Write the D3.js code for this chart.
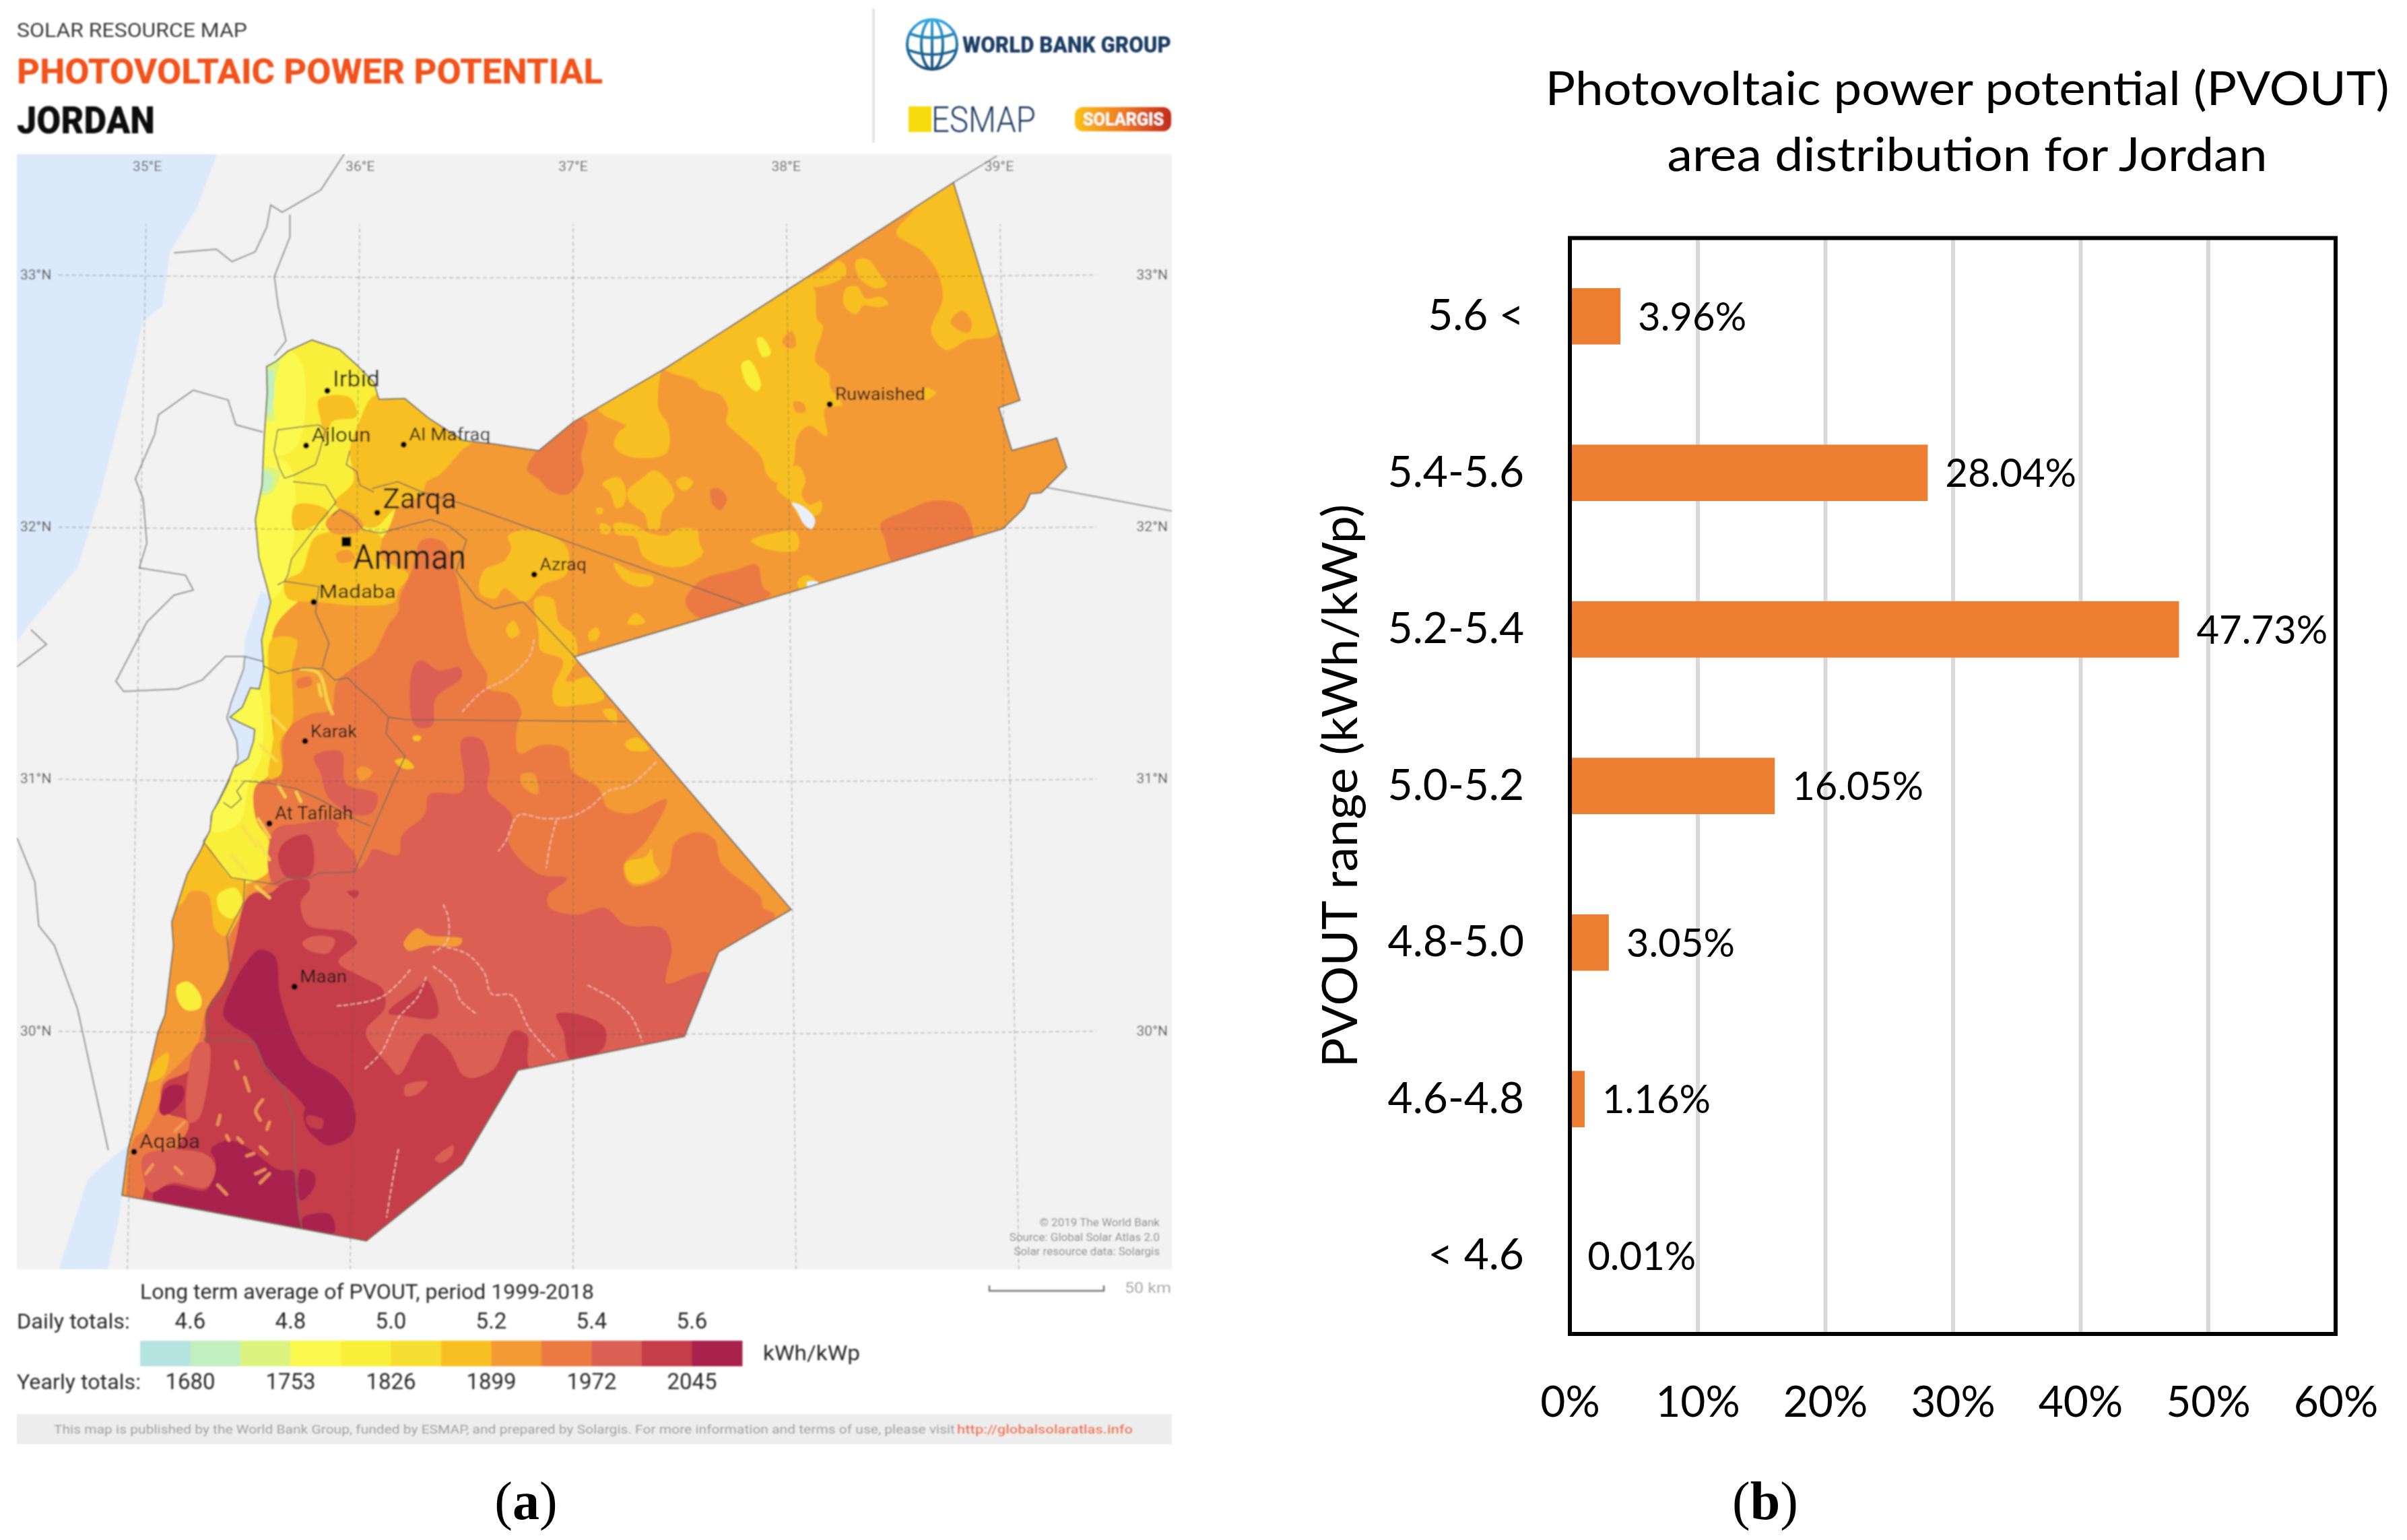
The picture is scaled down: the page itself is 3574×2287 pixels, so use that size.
<!DOCTYPE html>
<html>
<head>
<meta charset="utf-8">
<title>PVOUT Jordan</title>
<script src="https://cdn.jsdelivr.net/npm/d3@7"></script>
<style>
  html, body { margin: 0; padding: 0; background: #fff; }
  svg { display: block; }
</style>
</head>
<body>
<svg id="chart" width="3574" height="2287"></svg>
<script>
// bar chart values
var pvoutRanges = ['5.6 <', '5.4-5.6', '5.2-5.4', '5.0-5.2', '4.8-5.0', '4.6-4.8', '< 4.6'];
var areaShare = [3.96, 28.04, 47.73, 16.05, 3.05, 1.16, 0.01];
var shareTicks = [0, 10, 20, 30, 40, 50, 60];

// map legend
var classColors = ['#B5E3E0', '#C2EFC0', '#DCF47E', '#FBF94E', '#F9EF3A', '#F7DE30', '#F8BF21', '#F39A36', '#EA7A42', '#DB5E52', '#C43D48', '#A9224E'];
var dailyTicks = ['4.6', '4.8', '5.0', '5.2', '5.4', '5.6'];
var yearlyTicks = ['1680', '1753', '1826', '1899', '1972', '2045'];

// graticule
var meridians = [35, 36, 37, 38, 39];
var parallels = [33, 32, 31, 30];

var cityNames = ['Irbid', 'Ajloun', 'Al Mafraq', 'Zarqa', 'Amman', 'Azraq', 'Madaba', 'Karak', 'At Tafilah', 'Ruwaished', 'Maan', 'Aqaba'];
var cityLon = [35.863, 35.765, 36.216, 36.094, 35.951, 36.82, 35.80, 35.76, 35.595, 38.187, 35.711, 34.969];
var cityLat = [32.539, 32.321, 32.325, 32.055, 31.94, 31.81, 31.701, 31.149, 30.822, 32.485, 30.175, 29.52];
var cityFont = [33, 30, 26, 42, 52, 25, 27, 25, 27, 25, 25, 30];
var cityWidth = [70, 88, 121, 110, 168, 70, 114, 69, 116, 134, 70, 90];

// Jordan outline [lon, lat]
var jordan = [[38.759,33.365],[39.067,32.501],[38.969,32.471],[39.03,32.302],[39.237,32.351],[39.283,32.234],[39.165,32.134],[39.115,32.13],[39.085,32.073],[38.987,31.991],
  [37.005,31.483],[38.009,30.481],[37.673,30.313],[37.515,29.977],[36.745,29.843],[36.486,29.47],[36.044,29.166],[34.913,29.347],
  [34.941,29.531],[34.992,29.695],[35.032,29.817],[35.08,29.995],[35.112,30.063],[35.151,30.336],[35.143,30.431],[35.215,30.622],[35.278,30.717],
  [35.294,30.75],[35.32,30.795],[35.33,30.866],[35.361,30.91],[35.403,30.982],[35.429,31.044],[35.496,31.08],[35.522,31.151],[35.527,31.195],[35.46,31.222],[35.413,31.244],[35.47,31.284],[35.507,31.36],[35.548,31.356],[35.569,31.436],[35.559,31.551],
  [35.601,31.701],[35.585,31.756],[35.546,31.878],[35.53,32.028],[35.561,32.164],[35.57,32.342],[35.585,32.532],[35.582,32.635],
  [35.625,32.655],[35.681,32.696],[35.792,32.74],[35.919,32.703],[35.999,32.641],[36.078,32.573],[36.102,32.505],[36.221,32.508],[36.332,32.43],[36.491,32.342],[36.634,32.328],[36.841,32.301],[37.0,32.414],[37.431,32.63],[38.075,32.985]];

// surroundings
var medSea = [[34.2,33.6],[35.38,33.6],[35.35,33.472],[35.261,33.266],[35.136,33.09],[35.1,32.874],[35.011,32.816],[34.975,32.678],[34.814,32.13],[34.707,31.836],[34.492,31.621],[34.428,31.542],[34.2,31.5]];
var deadSea = [[35.554,31.742],[35.62,31.72],[35.633,31.115],[35.429,31.044],[35.455,31.07],[35.444,31.151],[35.398,31.24],[35.418,31.302],[35.476,31.436],[35.481,31.551]];
var gulfAqaba = [[34.929,29.538],[34.953,29.531],[34.913,29.347],[34.897,29.245],[34.833,29.0],[34.6,29.0],[34.754,29.409],[34.849,29.484]];
var borderLines = [
  [[35.958,33.5],[35.833,33.335],[35.654,33.247],[35.601,33.276],[35.583,33.188],[35.529,33.09],[35.422,33.051],[35.35,33.1],[35.154,33.086]],
  [[35.69,33.237],[35.69,33.149],[35.618,32.992],[35.636,32.874],[35.672,32.737],[35.618,32.678]],
  [[35.565,32.375],[35.44,32.404],[35.404,32.502],[35.243,32.541],[35.082,32.443],[35.064,32.365],[34.975,32.189],[35.011,32.11],[35.028,31.934],[34.993,31.836],[35.207,31.807],[35.243,31.748],[35.154,31.728],[35.028,31.621],[34.885,31.386],[34.921,31.346],[35.171,31.356],[35.2835,31.391],[35.392,31.485],[35.481,31.485],[35.57,31.464]],
  [[35.481,31.485],[35.476,31.436],[35.418,31.302],[35.398,31.24],[35.444,31.151],[35.45,31.08],[35.418,31.017],[35.361,30.915],[35.325,30.85],[35.325,30.795],[35.288,30.75]],
  [[34.428,31.444],[34.564,31.533],[34.492,31.591]],
  [[34.428,30.765],[34.51,30.591],[34.528,30.417],[34.6,30.339],[34.707,30.088],[34.85,29.526]],
  [[39.192,32.155],[39.78,32.06]],
  [[38.759,33.365],[38.96,33.47]]
];

// governorate lines
var adminLines = [
  [[36.07,32.151],[36.189,32.178],[36.3,32.137],[36.467,32.096],[37.789,31.691]],
  [[35.967,32.301],[35.951,32.246],[35.998,32.219],[36.014,32.164],[36.078,32.137]],
  [[35.633,32.383],[35.744,32.396],[35.824,32.403],[35.855,32.383],[35.824,32.287],[35.808,32.246],[35.712,32.205],[35.665,32.192],[35.641,32.233],[35.617,32.301],[35.633,32.383]],
  [[35.704,32.178],[35.855,32.164],[35.903,32.096],[35.824,32.014],[35.697,31.871],[35.681,31.81],[35.665,31.783]],
  [[35.887,32.042],[35.919,32.069],[35.983,32.035],[36.03,31.987],[36.11,31.974],[36.221,32.001],[36.34,32.028],[36.428,32.001],[36.507,31.946],[36.459,31.824],[36.554,31.715],[36.634,31.674],[36.769,31.701],[37.007,31.483]],
  [[35.633,31.769],[35.665,31.783],[35.824,31.762],[35.808,31.66],[35.871,31.538],[35.84,31.442]],
  [[35.481,31.436],[35.564,31.449],[35.636,31.418],[35.751,31.44],[35.844,31.436],[35.896,31.391],[35.958,31.4],[36.01,31.355],[36.083,31.302],[36.145,31.244],[36.218,31.235],[36.685,31.231],[37.246,31.227]],
  [[36.145,31.244],[36.135,31.178],[36.223,31.089],[36.166,30.982],[35.989,30.63],[35.823,30.626],[35.782,30.608],[35.678,30.608],[35.616,30.581],[35.418,30.608],[35.289,30.75]],
  [[35.382,30.906],[35.418,30.884],[35.465,30.92],[35.444,30.951],[35.481,30.991],[35.595,30.982],[35.72,30.96],[35.834,30.915],[35.989,30.839],[36.062,30.812]],
  [[35.481,30.599],[35.476,30.51],[35.398,30.377],[35.413,30.25],[35.397,30.171],[35.304,30.082],[35.314,30.011],[35.294,29.962],[35.439,29.962],[35.522,29.958],[35.574,29.86],[35.657,29.78],[35.709,29.646],[35.709,29.504],[35.73,29.281],[35.745,29.219]]
];

// pvout zones, drawn in this order on top of the base class
var zonesYellow = [
  [[35.44,32.85],[36.15,32.85],[36.15,32.0],[35.95,31.85],[35.744,31.715],[35.62,31.6],[35.605,31.436],[35.60,31.3],[35.616,31.106],[35.595,31.017],[35.543,30.973],[35.533,30.84],[35.605,30.75],[35.605,30.66],[35.574,30.617],[35.418,30.581],[35.31,30.72],[34.9,30.6],[34.9,31.2],[35.3,32.0],[35.3,32.85]]
];
var zonesBright = [
  [[35.5,32.25],[35.68,32.25],[35.69,31.85],[35.62,31.72],[35.5,31.72]],
  [[35.5,32.7],[35.72,32.68],[35.76,32.45],[35.7,32.3],[35.5,32.3]],
  [[35.3,31.4],[35.52,31.4],[35.56,31.1],[35.50,30.98],[35.45,30.82],[35.3,30.8]]
];
var zonesLime = [
  [[35.577,32.641],[35.641,32.662],[35.609,32.532],[35.617,32.423],[35.577,32.423]],
  [[35.57,32.233],[35.641,32.219],[35.609,32.137],[35.554,32.124]]
];
var zonesGreen = [
  [[35.577,32.62],[35.61,32.62],[35.6,32.45],[35.577,32.45]],
  [[35.57,32.22],[35.61,32.2],[35.59,32.14],[35.56,32.14]]
];
var zonesAmber = [
  [[36.078,32.519],[36.269,32.532],[36.539,32.342],[36.491,32.308],[36.428,32.246],[36.38,32.205],[36.324,32.178],[36.3,32.13],[36.165,32.062],[36.094,32.001],[36.03,32.001],[35.983,32.049],[35.919,32.069],[35.895,32.096],[35.983,32.178],[35.967,32.301],[36.014,32.423]],
  [[35.808,31.96],[35.951,31.987],[36.03,31.987],[36.11,31.96],[36.11,31.878],[36.237,31.81],[36.189,31.742],[36.173,31.701],[35.998,31.687],[35.824,31.701],[35.681,31.715],[35.665,31.783],[35.744,31.824],[35.776,31.906]],
  [[35.824,32.505],[35.967,32.512],[35.998,32.437],[35.887,32.417],[35.855,32.342],[35.832,32.423]],
  [[35.712,32.083],[35.824,32.083],[35.871,32.055],[35.824,32.014],[35.712,31.987]],
  // band east of the valley yellow
  [[35.605,31.551],[35.72,31.551],[35.699,31.436],[35.699,31.222],[35.647,31.151],[35.647,31.017],[35.595,31.0],[35.616,31.195],[35.595,31.373]],
  // north-east arm
  [[38.566,33.245],[38.495,33.164],[38.611,33.095],[38.683,33.014],[38.71,32.905],[38.656,32.775],[38.727,32.7],[38.826,32.741],[38.942,32.755],[38.987,32.823],[38.897,33.136],[38.79,33.422],[38.629,33.341]],
  [[38.075,32.986],[38.119,32.932],[38.128,32.823],[38.155,32.795],[38.119,32.659],[38.182,32.605],[38.191,32.55],[38.245,32.482],[38.164,32.468],[38.173,32.359],[38.093,32.4],[38.039,32.359],[38.021,32.25],[38.003,32.209],[37.941,32.175],[37.896,32.209],[37.869,32.278],[37.753,32.373],[37.708,32.414],[37.717,32.468],[37.681,32.523],[37.592,32.55],[37.565,32.577],[37.431,32.618],[37.377,32.659],[38.003,33.013]],
  [[37.404,32.605],[37.395,32.468],[37.44,32.4],[37.431,32.291],[37.261,32.278],[37.19,32.318],[37.208,32.373],[37.243,32.4],[37.145,32.441],[37.109,32.482],[37.431,32.68]],
  [[37.252,32.141],[37.315,32.189],[37.377,32.223],[37.449,32.169],[37.467,32.114],[37.413,32.059],[37.395,31.991],[37.351,31.991],[37.333,32.046],[37.261,32.1]],
  [[37.136,32.169],[37.208,32.196],[37.243,32.148],[37.234,32.087],[37.199,32.073],[37.172,32.134]],
  [[37.476,32.175],[37.512,32.199],[37.556,32.175],[37.512,32.141]],
  [[37.19,32.012],[37.288,32.005],[37.342,31.978],[37.431,31.964],[37.485,31.991],[37.574,31.985],[37.583,31.937],[37.601,31.896],[37.529,31.848],[37.431,31.841],[37.324,31.882],[37.288,31.957],[37.199,31.971]],
  [[37.127,32.012],[37.172,31.998],[37.163,31.971],[37.127,31.977]],
  [[37.109,32.073],[37.136,32.073],[37.136,32.053],[37.109,32.053]],
  [[37.19,31.855],[37.27,31.82],[37.368,31.801],[37.368,31.773],[37.297,31.762],[37.225,31.794]],
  [[37.824,31.944],[37.914,31.971],[38.03,31.978],[38.039,31.91],[37.896,31.91]],
  [[37.252,31.616],[37.288,31.657],[37.333,31.623],[37.297,31.61]],
  [[37.073,31.569],[37.1,31.599],[37.124,31.582],[37.1,31.544]],
  [[38.307,33.054],[38.361,33.061],[38.414,33.007],[38.45,32.959],[38.397,32.945],[38.325,32.986]],
  [[38.262,32.945],[38.316,32.952],[38.352,32.905],[38.423,32.911],[38.459,32.884],[38.414,32.87],[38.343,32.877],[38.307,32.843],[38.254,32.877]],
  [[38.075,32.979],[38.164,33.014],[38.227,33.054],[38.254,33.041],[38.262,33.0],[38.2,32.966],[38.11,32.952]],
  [[37.985,32.209],[38.039,32.243],[38.075,32.182],[38.057,32.128],[38.093,32.087],[38.146,32.1],[38.146,32.059],[38.057,32.032],[38.003,32.1],[37.941,32.155]],
  [[38.039,31.78],[38.075,31.807],[38.119,31.787],[38.093,31.76],[38.048,31.753]],
  [[38.629,32.55],[38.679,32.53],[38.629,32.502]],
  // Azraq and south of it
  [[36.698,31.96],[36.777,31.987],[36.936,31.946],[36.976,31.905],[36.968,31.81],[36.857,31.769],[36.777,31.701],[36.682,31.756],[36.642,31.715],[36.57,31.735],[36.586,31.824],[36.682,31.865],[36.714,31.919]],
  [[36.825,31.715],[36.904,31.715],[36.936,31.619],[37.007,31.565],[37.015,31.47],[36.968,31.387],[37.079,31.401],[37.143,31.319],[37.016,31.292],[36.92,31.292],[36.904,31.347],[36.952,31.469],[36.849,31.51],[36.841,31.578]],
  [[36.69,31.592],[36.722,31.626],[36.753,31.578],[36.713,31.558]],
  [[37.071,31.578],[37.111,31.599],[37.119,31.572],[37.079,31.544]],
  [[37.241,31.142],[37.297,31.163],[37.352,31.115],[37.257,31.115]],
  [[37.138,31.272],[37.193,31.272],[37.201,31.217],[37.162,31.237]]
];
var zonesBaseOnAmber = [
  [[38.799,32.857],[38.745,32.809],[38.826,32.768],[38.844,32.809]],
  [[37.967,32.734],[38.012,32.775],[38.03,32.714],[37.994,32.707]],
  [[38.021,32.496],[38.066,32.489],[38.075,32.455],[38.03,32.455]],
  [[35.855,32.014],[35.919,32.069],[35.998,32.042],[36.03,32.001],[35.99,31.974],[35.887,31.974]],
  [[35.903,31.892],[35.967,31.906],[35.99,31.871],[35.919,31.858]]
];
var zonesRed1 = [
  [[36.3,31.946],[36.396,31.94],[36.459,31.81],[36.491,31.66],[36.523,31.524],[36.602,31.415],[36.602,31.36],[36.714,31.333],[36.761,31.265],[36.741,31.21],[36.749,31.101],[36.86,31.135],[36.971,31.115],[36.995,31.033],[37.114,30.965],[37.162,30.883],[37.273,30.863],[37.432,30.917],[37.344,30.76],[37.233,30.651],[37.273,30.576],[37.432,30.624],[37.472,30.747],[37.575,30.788],[37.654,30.76],[37.686,30.665],[37.869,30.529],[37.877,30.488],[37.932,30.46],[37.75,30.25],[37.654,30.1],[37.575,29.9],[37.5,29.7],[36.5,29.2],[36,29.1],[35,29.25],[34.897,29.3],[34.93,29.352],[34.941,29.45],[34.972,29.575],[35.024,29.61],[35.086,29.717],[35.096,29.789],[35.2,29.886],[35.263,29.949],[35.304,30.082],[35.397,30.171],[35.408,30.367],[35.481,30.483],[35.491,30.528],[35.595,30.59],[35.605,30.66],[35.595,30.75],[35.533,30.84],[35.533,30.973],[35.647,31.017],[35.657,31.151],[35.699,31.213],[35.792,31.258],[35.88,31.275],[35.906,31.382],[35.989,31.444],[36.078,31.497],[36.142,31.606],[36.189,31.66],[36.197,31.715],[36.253,31.824]],
  [[35.72,31.387],[35.782,31.405],[35.792,31.373],[35.73,31.36]],
  // north-east arm
  [[37.064,32.414],[37.038,32.278],[37.047,32.209],[36.975,32.128],[36.895,32.141],[36.841,32.189],[36.787,32.223],[36.841,32.312],[36.948,32.4],[37.0,32.441]],
  [[37.637,32.148],[37.681,32.148],[37.712,32.107],[37.681,32.066],[37.646,32.087]],
  [[38.423,32.012],[38.531,32.059],[38.665,32.103],[38.79,32.087],[38.835,32.032],[38.844,31.937],[38.486,31.855],[38.441,31.95]],
  [[37.52,31.712],[37.592,31.787],[37.753,31.828],[37.851,31.848],[37.878,31.76],[37.914,31.732],[37.771,31.678],[37.592,31.637],[37.529,31.678]]
];
var zonesRed2 = [
  [[36.486,31.156],[36.574,31.156],[36.614,31.047],[36.606,30.951],[36.717,30.856],[36.701,30.747],[36.836,30.624],[36.971,30.604],[36.884,30.536],[36.892,30.488],[37.019,30.461],[37.146,30.488],[37.241,30.42],[37.416,30.406],[37.456,30.324],[37.432,30.229],[37.432,30.188],[37.623,30.229],[37.559,29.943],[36.987,29.861],[36.749,29.834],[36.2,29.8],[35.707,29.8],[35.707,30.472],[35.771,30.608],[35.866,30.676],[35.962,30.649],[36.002,30.651],[36.065,30.72],[36.192,30.699],[36.208,30.774],[36.312,30.856],[36.336,30.938],[36.486,30.951]],
  [[36.3,31.469],[36.38,31.428],[36.475,31.442],[36.483,31.401],[36.364,31.319],[36.348,31.21],[36.269,31.21],[36.245,31.374],[36.269,31.456]],
  [[35.802,31.089],[35.927,31.106],[35.948,30.982],[36.093,30.937],[36.072,30.866],[35.989,30.857],[35.865,30.928],[35.834,31.017]],
  [[35.616,30.795],[35.74,30.822],[35.906,30.83],[35.927,30.777],[35.989,30.706],[35.989,30.63],[35.616,30.581]]
];
var zonesRed1Over = [
  [[35.906,30.803],[35.989,30.81],[36.062,30.76],[36.072,30.732],[36.01,30.643],[35.989,30.706],[35.958,30.733]]
];
var zonesRed3 = [
  [[35.668,30.59],[35.771,30.599],[35.782,30.564],[35.74,30.51],[35.771,30.421],[35.865,30.403],[35.948,30.394],[36.001,30.35],[35.914,30.274],[36.025,30.213],[36.12,30.165],[36.128,30.09],[36.041,29.995],[36.152,29.858],[36.192,29.824],[36.319,29.988],[36.422,29.927],[36.502,29.818],[36.629,29.845],[36.724,30.0],[36.788,29.98],[36.788,29.886],[36.8,29.8],[36.55,29.4],[36.1,29.05],[35.013,29.25],[35.013,29.352],[35.065,29.459],[35.169,29.539],[35.221,29.637],[35.107,29.682],[35.107,29.788],[35.221,29.842],[35.294,29.949],[35.304,30.082],[35.387,30.198],[35.44,30.36],[35.481,30.51],[35.522,30.546],[35.595,30.546]],
  [[35.657,30.741],[35.771,30.777],[35.802,30.697],[35.782,30.617],[35.678,30.608],[35.636,30.679]],
  [[35.954,30.553],[36.009,30.553],[35.993,30.526]],
  [[36.145,30.072],[36.288,30.175],[36.32,30.202],[36.375,30.106],[36.367,30.052],[36.224,30.059]],
  [[36.923,30.065],[37.05,30.059],[37.146,30.011],[37.138,29.929],[36.987,29.888],[36.955,29.997]]
];
var zonesRed4 = [
  [[35.549,30.322],[35.62,30.295],[35.644,30.145],[35.707,29.981],[35.771,29.886],[35.898,29.818],[35.985,29.708],[35.962,29.654],[35.985,29.6],[35.866,29.545],[35.803,29.586],[35.771,29.681],[35.691,29.763],[35.596,29.831],[35.517,29.967],[35.421,30.022],[35.382,30.063],[35.421,30.172],[35.485,30.267]],
  [[35.065,29.37],[35.148,29.388],[35.304,29.37],[35.346,29.477],[35.325,29.531],[35.408,29.566],[35.491,29.539],[35.636,29.45],[35.709,29.441],[35.73,29.272],[35.74,29.21],[35.429,29.246],[35.065,29.317]],
  [[35.75,29.259],[35.875,29.272],[35.896,29.2],[35.75,29.219]],
  [[35.74,29.45],[35.802,29.433],[35.802,29.379],[35.74,29.326]],
  [[35.107,29.762],[35.138,29.784],[35.195,29.78],[35.195,29.726],[35.107,29.664],[35.086,29.682]],
  [[35.761,29.691],[35.979,29.7],[35.979,29.593],[35.875,29.548],[35.771,29.61]]
];
var patchesRed3 = [
  [[35.771,29.664],[35.844,29.646],[35.833,29.611],[35.771,29.628]]
];
var patchesRed2 = [
  [[36.224,29.783],[36.327,29.797],[36.279,29.749],[36.224,29.742]],
  [[36.359,29.49],[36.446,29.545],[36.438,29.504],[36.391,29.477]],
  [[35.262,29.949],[35.314,29.949],[35.294,29.717],[35.262,29.646],[35.221,29.637],[35.221,29.842]],
  [[35.013,29.504],[35.294,29.513],[35.346,29.459],[35.304,29.379],[35.148,29.397],[35.044,29.361]],
  [[35.747,30.349],[35.803,30.376],[35.898,30.363],[35.866,30.308],[35.771,30.322]]
];
var patchesBase = [
  [[36.216,30.345],[36.28,30.406],[36.336,30.379],[36.487,30.365],[36.471,30.338],[36.328,30.338],[36.24,30.318]],
  [[36.757,31.013],[36.82,31.019],[36.836,30.938],[36.772,30.965]],
  [[35.999,31.035],[36.031,31.048],[36.072,31.026],[36.02,30.99]]
];
var patchesAmber = [
  [[35.286,30.744],[35.418,30.608],[35.481,30.599],[35.476,30.51],[35.398,30.377],[35.346,30.4],[35.31,30.54],[35.231,30.553],[35.183,30.499],[35.12,30.499],[35.199,30.622]],
  [[35.024,29.797],[35.076,29.886],[35.128,29.913],[35.107,29.824],[35.044,29.797]],
  [[37.241,30.665],[37.337,30.692],[37.36,30.72],[37.376,30.665],[37.4,30.624],[37.305,30.583],[37.257,30.597]],
  [[36.176,31.07],[36.223,31.08],[36.264,31.044],[36.218,31.04]],
  [[36.259,31.168],[36.295,31.168],[36.29,31.151],[36.264,31.151]]
];
var patchesYellow = [
  [[35.358,30.54],[35.437,30.567],[35.469,30.513],[35.421,30.445],[35.366,30.472]],
  [[35.169,30.18],[35.221,30.194],[35.278,30.136],[35.273,30.091],[35.21,30.082],[35.169,30.127]],
  [[37.78,32.646],[37.815,32.659],[37.869,32.564],[37.851,32.537],[37.806,32.564]],
  [[37.851,32.748],[37.878,32.748],[37.914,32.686],[37.878,32.673]]
];
var waterPatches = [
  [[38.012,32.094],[38.048,32.087],[38.093,32.059],[38.119,32.025],[38.102,31.991],[38.066,32.012],[38.039,32.059]],
  [[38.084,31.78],[38.132,31.78],[38.132,31.767],[38.084,31.762]]
];
var streaksYellow = [
  [[35.74,31.436],[35.823,31.418],[35.865,31.302],[35.886,31.258]],
  [[35.823,31.373],[35.834,31.329]],
  [[35.595,31.258],[35.668,31.195]],
  [[35.553,31.133],[35.626,31.071]],
  [[35.636,30.973],[35.668,30.928]],
  [[35.72,30.946],[35.74,30.91]],
  [[35.543,30.84],[35.595,30.768]],
  [[35.543,30.75],[35.595,30.679]],
  [[35.533,30.572],[35.595,30.528]],
  [[35.47,30.813],[35.533,30.733]],
  [[35.418,30.697],[35.491,30.626]]
];
var streaksPale = [
  [[35.439,29.878],[35.449,29.851]],
  [[35.481,29.815],[35.501,29.762]],
  [[35.564,29.726],[35.532,29.682],[35.553,29.646]],
  [[35.595,29.637],[35.584,29.61]],
  [[35.491,29.504],[35.522,29.513]],
  [[35.553,29.539],[35.584,29.513]],
  [[35.397,29.584],[35.408,29.566]],
  [[35.449,29.575],[35.47,29.557]],
  [[35.532,29.433],[35.574,29.45]],
  [[35.553,29.397],[35.595,29.433]],
  [[35.366,29.664],[35.356,29.628]],
  [[35.2,29.637],[35.159,29.602]],
  [[35.055,29.468],[35.024,29.433]],
  [[35.159,29.459],[35.19,29.433]],
  [[35.356,29.388],[35.397,29.352]]
];
var wadis = [
  [[36.486,31.265],[36.582,31.347],[36.701,31.401],[36.796,31.483],[36.82,31.551]],
  [[37.384,31.067],[37.321,31.013],[37.257,30.972],[37.162,30.951],[37.082,30.89],[36.987,30.849],[36.86,30.842],[36.749,30.856],[36.685,30.747],[36.653,30.713]],
  [[36.923,30.835],[36.892,30.733],[36.876,30.645]],
  [[36.399,30.501],[36.423,30.447],[36.415,30.352],[36.351,30.31]],
  [[36.415,30.331],[36.51,30.304],[36.59,30.229],[36.622,30.147],[36.717,30.14],[36.796,30.011],[36.923,29.888]],
  [[36.351,30.256],[36.447,30.188],[36.479,30.12],[36.558,30.065]],
  [[36.32,30.215],[36.28,30.133],[36.192,30.052],[36.113,29.915],[36.034,29.847]],
  [[35.907,30.099],[36.113,30.133],[36.248,30.243]],
  [[37.066,30.181],[37.194,30.12],[37.273,30.052],[37.32,29.956]],
  [[36.192,29.531],[36.16,29.381],[36.137,29.259]]
];

var svg = d3.select('#chart');
var defs = svg.append('defs');
var mapFont = 'Roboto, sans-serif';
var barFont = 'Lato, sans-serif';

// squeeze text to the width it has in the picture
function fit(sel, len) {
    return sel.attr('textLength', len).attr('lengthAdjust', 'spacingAndGlyphs');
}

function renderPanelA() {
    var soft = defs.append('filter').attr('id', 'soft')
        .attr('x', 0).attr('y', 0).attr('width', '100%').attr('height', '100%');
    soft.append('feGaussianBlur').attr('stdDeviation', 1.3);

    var left = svg.append('g').attr('filter', 'url(#soft)');
    renderHeader(left);
    renderMap(left);
    renderLegend(left);
}

function renderHeader(g) {
    g.append('text').attr('x', 25).attr('y', 55).text('SOLAR RESOURCE MAP')
        .attr('font-family', mapFont).attr('font-size', 29).attr('fill', '#3c3c3c')
        .call(fit, 342);
    g.append('text').attr('x', 25).attr('y', 124).text('PHOTOVOLTAIC POWER POTENTIAL')
        .attr('font-family', mapFont).attr('font-weight', 800).attr('font-size', 51).attr('fill', '#F0521E')
        .call(fit, 870);
    g.append('text').attr('x', 25).attr('y', 198).text('JORDAN')
        .attr('font-family', mapFont).attr('font-weight', 900).attr('font-size', 55).attr('fill', '#111')
        .call(fit, 205);

    g.append('line').attr('x1', 1297).attr('x2', 1297).attr('y1', 12).attr('y2', 212)
        .attr('stroke', '#ddd').attr('stroke-width', 3);

    // world bank globe
    var globeGrad = defs.append('linearGradient').attr('id', 'globeGrad')
        .attr('x1', 0).attr('y1', 0).attr('x2', 0).attr('y2', 1);
    globeGrad.append('stop').attr('offset', '0%').attr('stop-color', '#35A9DF');
    globeGrad.append('stop').attr('offset', '55%').attr('stop-color', '#1F6E9C');
    globeGrad.append('stop').attr('offset', '100%').attr('stop-color', '#1B4E78');
    var globe = g.append('g').attr('transform', 'translate(1384,66)')
        .attr('fill', 'none').attr('stroke', 'url(#globeGrad)').attr('stroke-width', 4);
    globe.append('circle').attr('r', 37);
    globe.append('ellipse').attr('rx', 16).attr('ry', 37);
    globe.append('path').attr('d', 'M0,-37V37M-33,-16Q0,-4 33,-16M-36,8Q0,22 36,8');

    g.append('text').attr('x', 1429).attr('y', 78).text('WORLD BANK GROUP')
        .attr('font-family', mapFont).attr('font-weight', 900).attr('font-size', 33).attr('fill', '#1B3E63')
        .call(fit, 310);

    g.append('rect').attr('x', 1349).attr('y', 158).attr('width', 34).attr('height', 38).attr('fill', '#F6DC0E');
    g.append('text').attr('x', 1383).attr('y', 196).text('ESMAP')
        .attr('font-family', mapFont).attr('font-weight', 300).attr('font-size', 54).attr('fill', '#1E3A5F')
        .call(fit, 155);

    var solarGrad = defs.append('linearGradient').attr('id', 'solarGrad');
    solarGrad.append('stop').attr('offset', '0%').attr('stop-color', '#F8C318');
    solarGrad.append('stop').attr('offset', '50%').attr('stop-color', '#EF7B22');
    solarGrad.append('stop').attr('offset', '100%').attr('stop-color', '#C22A1E');
    g.append('rect').attr('x', 1596).attr('y', 159).attr('width', 143).attr('height', 36).attr('rx', 12)
        .attr('fill', 'url(#solarGrad)');
    g.append('text').attr('x', 1608).attr('y', 186).text('SOLARGIS')
        .attr('font-family', mapFont).attr('font-weight', 700).attr('font-size', 26).attr('fill', '#fff')
        .call(fit, 120);
}

function renderMap(g) {
    var xMap = d3.scaleLinear().domain([37, 38]).range([851, 1172]);
    var yMap = d3.scaleLinear().domain([32, 31]).range([782, 1156.4]);

    var panel = {x: 25, y: 229, w: 1715, h: 1656};
    var polyLine = d3.line().x(function(d) { return xMap(d[0]); }).y(function(d) { return yMap(d[1]); });
    var blob = d3.line().x(function(d) { return xMap(d[0]); }).y(function(d) { return yMap(d[1]); })
        .curve(d3.curveCatmullRomClosed.alpha(0.5));
    var curvy = d3.line().x(function(d) { return xMap(d[0]); }).y(function(d) { return yMap(d[1]); })
        .curve(d3.curveCatmullRom.alpha(0.5));

    defs.append('clipPath').attr('id', 'panelClip').append('rect')
        .attr('x', panel.x).attr('y', panel.y).attr('width', panel.w).attr('height', panel.h);
    defs.append('clipPath').attr('id', 'jordanClip').append('path')
        .attr('d', polyLine(jordan) + 'Z');

    var map = g.append('g').attr('clip-path', 'url(#panelClip)');
    map.append('rect').attr('x', panel.x).attr('y', panel.y).attr('width', panel.w).attr('height', panel.h)
        .attr('fill', '#F2F2F2');

    [medSea, deadSea, gulfAqaba].forEach(function(ring) {
        map.append('path').attr('d', polyLine(ring) + 'Z').attr('fill', '#DCE9FB');
    });

    map.append('g').selectAll('path').data(borderLines).join('path')
        .attr('d', polyLine).attr('fill', 'none').attr('stroke', '#969696').attr('stroke-width', 2.2);

    map.append('path').attr('d', polyLine(jordan) + 'Z').attr('fill', classColors[7]);

    var zones = map.append('g').attr('clip-path', 'url(#jordanClip)');
    var stack = [
        [zonesYellow, classColors[4]], [zonesBright, classColors[3]], [zonesLime, classColors[2]], [zonesGreen, classColors[1]],
        [zonesAmber, classColors[6]], [zonesBaseOnAmber, classColors[7]],
        [zonesRed1, classColors[8]], [zonesRed2, classColors[9]], [zonesRed1Over, classColors[8]], [zonesRed3, classColors[10]], [zonesRed4, classColors[11]],
        [patchesRed3, classColors[10]], [patchesRed2, classColors[9]], [patchesBase, classColors[7]], [patchesAmber, classColors[6]], [patchesYellow, classColors[4]],
        [waterPatches, '#E8F0FB']
    ];
    stack.forEach(function(layer) {
        zones.append('g').selectAll('path').data(layer[0]).join('path')
            .attr('d', blob).attr('fill', layer[1]);
    });

    zones.append('g').selectAll('path').data(streaksYellow).join('path')
        .attr('d', curvy).attr('fill', 'none').attr('stroke', '#F8DE50').attr('stroke-width', 5)
        .attr('stroke-linecap', 'round').attr('opacity', 0.8);
    zones.append('g').selectAll('path').data(streaksPale).join('path')
        .attr('d', curvy).attr('fill', 'none').attr('stroke', '#F2A45A').attr('stroke-width', 5)
        .attr('stroke-linecap', 'round').attr('opacity', 0.8);

    zones.append('g').selectAll('path').data(wadis).join('path')
        .attr('d', curvy).attr('fill', 'none').attr('stroke', '#F2C9C0').attr('stroke-width', 2)
        .attr('stroke-dasharray', '7 3').attr('opacity', 0.8);

    zones.append('g').selectAll('path').data(adminLines).join('path')
        .attr('d', polyLine).attr('fill', 'none').attr('stroke', '#6d675a').attr('stroke-width', 1.5);

    map.append('path').attr('d', polyLine(jordan) + 'Z')
        .attr('fill', 'none').attr('stroke', '#6e6a55').attr('stroke-width', 2);

    // graticule, meridians lean in slightly towards the north
    var meridianX = function(lon, lat) { return xMap(37 + (lon - 37) * (1 - 0.0105 * (lat - 32))); };
    var grid = map.append('g').attr('fill', 'none').attr('stroke', '#555').attr('stroke-opacity', 0.36)
        .attr('stroke-width', 1.6).attr('stroke-dasharray', '6 4');
    meridians.forEach(function(lon) {
        var lats = d3.range(29.0, 33.36, 0.2);
        grid.append('path').attr('d', d3.line()
            .x(function(lat) { return meridianX(lon, lat); })
            .y(function(lat) { return yMap(lat); })(lats));
    });
    parallels.forEach(function(lat) {
        var lons = d3.range(34.62, 39.6, 0.2);
        grid.append('path').attr('d', d3.line()
            .x(function(lon) { return xMap(lon); })
            .y(function(lon) { return yMap(lat) + 5 * (1 - Math.pow((lon - 37) / 2.6, 2)); })(lons));
    });

    map.append('g').selectAll('text').data(meridians).join('text')
        .attr('x', function(d) { return meridianX(d, 33.42); }).attr('y', 254)
        .attr('text-anchor', 'middle').attr('font-family', mapFont).attr('font-size', 21).attr('fill', '#666')
        .text(function(d) { return d + '°E'; });
    map.append('g').selectAll('text').data(parallels).join('text')
        .attr('x', 30).attr('y', function(d) { return yMap(d) + 7; })
        .attr('font-family', mapFont).attr('font-size', 21).attr('fill', '#555')
        .text(function(d) { return d + '°N'; });
    map.append('g').selectAll('text').data(parallels).join('text')
        .attr('x', 1734).attr('y', function(d) { return yMap(d) + 7; })
        .attr('text-anchor', 'end').attr('font-family', mapFont).attr('font-size', 21).attr('fill', '#555')
        .text(function(d) { return d + '°N'; });

    // cities
    cityNames.forEach(function(name, i) {
        var cx = xMap(cityLon[i]);
        var cy = yMap(cityLat[i]);
        var isCapital = name === 'Amman';
        if (isCapital) {
            map.append('rect').attr('x', cx - 7).attr('y', cy - 7).attr('width', 14).attr('height', 14).attr('fill', '#000');
        } else {
            map.append('circle').attr('cx', cx).attr('cy', cy).attr('r', 4.5).attr('fill', '#000');
        }
        map.append('text')
            .attr('x', cx + (isCapital ? 10 : 8))
            .attr('y', cy + (isCapital ? 41 : -6))
            .attr('font-family', mapFont).attr('font-size', cityFont[i]).attr('fill', '#1c1c1c')
            .text(name).call(fit, cityWidth[i]);
    });

    var credits = ['© 2019 The World Bank', 'Source: Global Solar Atlas 2.0', 'Solar resource data: Solargis'];
    map.append('g').selectAll('text').data(credits).join('text')
        .attr('x', 1722).attr('y', function(d, i) { return 1821 + i * 21.5; })
        .attr('text-anchor', 'end').attr('font-family', mapFont).attr('font-size', 17).attr('fill', '#888')
        .text(function(d) { return d; });
}

function renderLegend(g) {
    var legendX = d3.scaleBand().domain(d3.range(classColors.length)).range([208, 1102]);

    g.append('text').attr('x', 208).attr('y', 1929).text('Long term average of PVOUT, period 1999-2018')
        .attr('font-family', mapFont).attr('font-size', 31).attr('fill', '#2c2c2c').call(fit, 674);

    g.append('g').selectAll('rect').data(classColors).join('rect')
        .attr('x', function(d, i) { return legendX(i); }).attr('y', 1991)
        .attr('width', legendX.bandwidth() + 0.5).attr('height', 38)
        .attr('fill', function(d) { return d; });

    g.append('text').attr('x', 25).attr('y', 1973).text('Daily totals:')
        .attr('font-family', mapFont).attr('font-size', 31).attr('fill', '#2c2c2c').call(fit, 168);
    g.append('text').attr('x', 25).attr('y', 2063).text('Yearly totals:')
        .attr('font-family', mapFont).attr('font-size', 31).attr('fill', '#2c2c2c').call(fit, 184);

    var tickX = function(d, i) { return legendX(2 * i + 1); };
    g.append('g').selectAll('text').data(dailyTicks).join('text')
        .attr('x', tickX).attr('y', 1973).attr('text-anchor', 'middle')
        .attr('font-family', mapFont).attr('font-size', 33).attr('fill', '#2c2c2c')
        .text(function(d) { return d; });
    g.append('g').selectAll('text').data(yearlyTicks).join('text')
        .attr('x', tickX).attr('y', 2063).attr('text-anchor', 'middle')
        .attr('font-family', mapFont).attr('font-size', 33).attr('fill', '#2c2c2c')
        .text(function(d) { return d; });

    g.append('text').attr('x', 1133).attr('y', 2020).text('kWh/kWp')
        .attr('font-family', mapFont).attr('font-size', 31).attr('fill', '#2c2c2c').call(fit, 144);

    g.append('path').attr('d', 'M1469,1909V1917H1639V1909')
        .attr('fill', 'none').attr('stroke', '#777').attr('stroke-width', 2.5);
    g.append('text').attr('x', 1670).attr('y', 1920).text('50 km')
        .attr('font-family', mapFont).attr('font-size', 22).attr('fill', '#aaa').call(fit, 69);

    g.append('rect').attr('x', 25).attr('y', 2100).attr('width', 1715).attr('height', 45).attr('fill', '#EDEDED');
    g.append('text').attr('x', 80).attr('y', 2129)
        .text('This map is published by the World Bank Group, funded by ESMAP, and prepared by Solargis. For more information and terms of use, please visit')
        .attr('font-family', mapFont).attr('font-size', 19).attr('fill', '#999').call(fit, 1338);
    g.append('text').attr('x', 1421).attr('y', 2129).text('http://globalsolaratlas.info')
        .attr('font-family', mapFont).attr('font-size', 19).attr('font-weight', 500).attr('fill', '#EE6A3C').call(fit, 261);
}

function renderPanelB() {
    var margin = {left: 2331, right: 3468, top: 353.5, bottom: 1981};

    var x = d3.scaleLinear().domain([0, 60]).range([margin.left, margin.right]);
    var y = d3.scaleBand().domain(pvoutRanges).range([margin.top, margin.bottom])
        .paddingInner(0.64).paddingOuter(0.32);

    var rows = pvoutRanges.map(function(r, i) { return {range: r, share: areaShare[i]}; });

    // gridlines
    var gridAxis = d3.axisBottom(x).tickValues(shareTicks.slice(1, -1))
        .tickSize(margin.bottom - margin.top).tickFormat('');
    var gridG = svg.append('g').attr('transform', 'translate(0,' + margin.top + ')').call(gridAxis);
    gridG.select('.domain').remove();
    gridG.selectAll('line').attr('stroke', '#D9D9D9').attr('stroke-width', 6);

    svg.append('g').selectAll('rect').data(rows).join('rect')
        .attr('x', x(0))
        .attr('y', function(d) { return y(d.range); })
        .attr('width', function(d) { return x(d.share) - x(0); })
        .attr('height', y.bandwidth())
        .attr('fill', '#ED7D31');

    svg.append('rect')
        .attr('x', margin.left).attr('y', margin.top)
        .attr('width', margin.right - margin.left).attr('height', margin.bottom - margin.top)
        .attr('fill', 'none').attr('stroke', '#000').attr('stroke-width', 6);

    var xAxis = d3.axisBottom(x).tickValues(shareTicks).tickSize(0).tickPadding(78)
        .tickFormat(function(d) { return d + '%'; });
    var xG = svg.append('g').attr('transform', 'translate(0,' + margin.bottom + ')').call(xAxis);
    xG.select('.domain').remove();
    xG.selectAll('text').attr('font-family', barFont).attr('font-size', 64).attr('fill', '#000');

    var yAxis = d3.axisLeft(y).tickSize(0).tickPadding(68);
    var yG = svg.append('g').attr('transform', 'translate(' + margin.left + ',0)').call(yAxis);
    yG.select('.domain').remove();
    yG.selectAll('text').attr('font-family', barFont).attr('font-size', 64).attr('fill', '#000');

    svg.append('g').selectAll('text').data(rows).join('text')
        .attr('x', function(d) { return x(d.share) + 26; })
        .attr('y', function(d) { return y(d.range) + y.bandwidth() / 2 + 21; })
        .attr('font-family', barFont).attr('font-size', 58).attr('fill', '#000')
        .text(function(d) { return d.share.toFixed(2) + '%'; });

    svg.append('text').attr('x', 2921).attr('y', 156).attr('text-anchor', 'middle')
        .attr('font-family', barFont).attr('font-size', 70).attr('fill', '#000')
        .text('Photovoltaic power potential (PVOUT)').call(fit, 1253);
    svg.append('text').attr('x', 2921).attr('y', 254).attr('text-anchor', 'middle')
        .attr('font-family', barFont).attr('font-size', 70).attr('fill', '#000')
        .text('area distribution for Jordan').call(fit, 891);

    svg.append('text')
        .attr('transform', 'translate(2015,1167) rotate(-90)')
        .attr('text-anchor', 'middle')
        .attr('font-family', barFont).attr('font-size', 72).attr('fill', '#000')
        .text('PVOUT range (kWh/kWp)').call(fit, 837);
}

function renderCaption(cx, letter) {
    var t = svg.append('text').attr('x', cx).attr('y', 2256).attr('text-anchor', 'middle')
        .attr('font-family', '"Liberation Serif", serif').attr('font-size', 80).attr('fill', '#000');
    t.append('tspan').text('(');
    t.append('tspan').attr('font-weight', 700).text(letter);
    t.append('tspan').text(')');
}

renderPanelA();
renderPanelB();
renderCaption(781, 'a');
renderCaption(2621, 'b');
</script>
</body>
</html>
